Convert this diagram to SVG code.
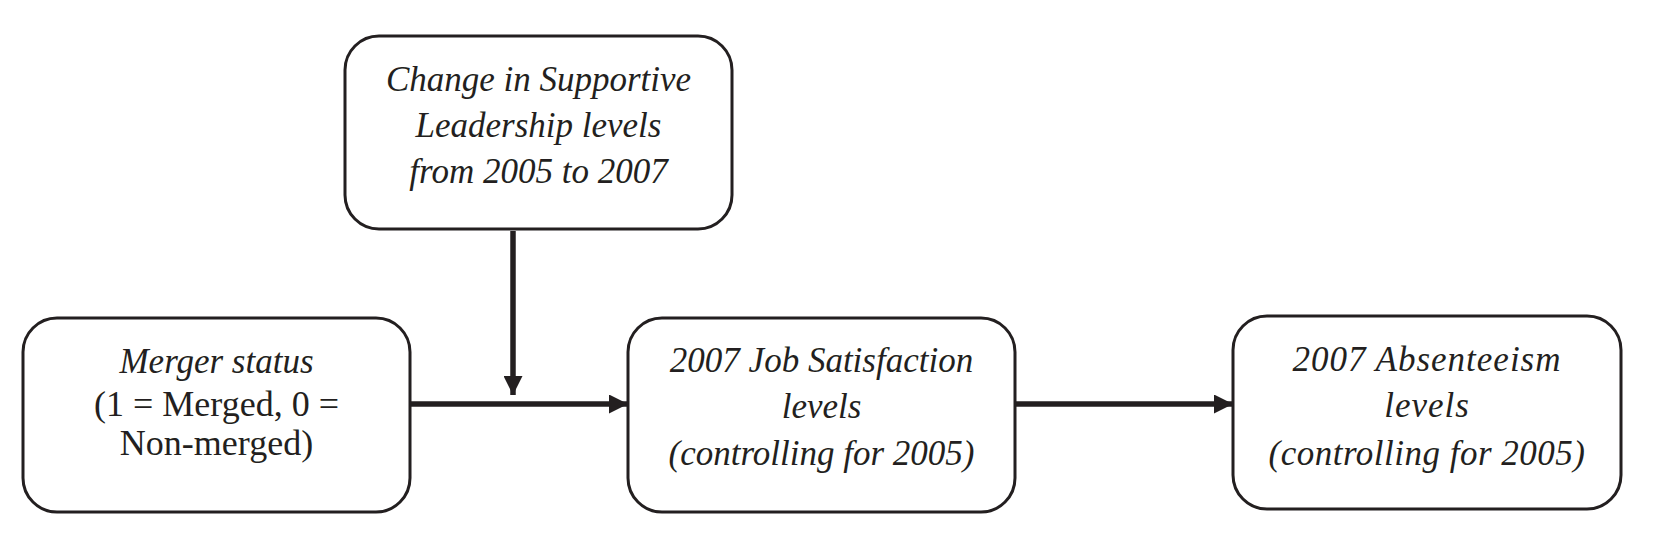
<svg xmlns="http://www.w3.org/2000/svg" width="1658" height="548" viewBox="0 0 1658 548">
<style>
.box{fill:#fff;stroke:#231f20;stroke-width:3}
.t{font-family:"Liberation Serif","Times New Roman",serif;font-size:35px;fill:#231f20;text-anchor:middle}
.i{font-style:italic}
.c{stroke:#231f20;stroke-width:5.5;fill:none}
</style>
<defs>
<marker id="ah" markerUnits="userSpaceOnUse" markerWidth="19" markerHeight="19" viewBox="0 0 19 19" refX="19" refY="9.5" orient="auto">
<path d="M0,0 L19,9.5 L0,19 Z" fill="#231f20"/>
</marker>
</defs>
<rect width="1658" height="548" fill="#fff"/>
<g id="leadership">
<rect class="box" x="345" y="36" width="387" height="193" rx="34"/>
<text class="t i" x="538.5" y="91">Change in Supportive</text>
<text class="t i" x="538.5" y="137">Leadership levels</text>
<text class="t i" x="538.5" y="183">from 2005 to 2007</text>
</g>
<g id="merger">
<rect class="box" x="23" y="318" width="387" height="194" rx="34"/>
<text class="t i" x="216.5" y="373">Merger status</text>
<text class="t" x="216.5" y="416" style="font-size:36px">(1 = Merged, 0 =</text>
<text class="t" x="216.5" y="455" style="font-size:36px">Non-merged)</text>
</g>
<g id="jobsat">
<rect class="box" x="628" y="318" width="387" height="194" rx="34"/>
<text class="t i" x="821.5" y="372">2007 Job Satisfaction</text>
<text class="t i" x="821.5" y="418">levels</text>
<text class="t i" x="821.5" y="465">(controlling for 2005)</text>
</g>
<g id="absent">
<rect class="box" x="1233" y="316" width="388" height="193" rx="34"/>
<text class="t i" x="1427" y="371" style="letter-spacing:1px">2007 Absenteeism</text>
<text class="t i" x="1427" y="417" style="letter-spacing:1px">levels</text>
<text class="t i" x="1427" y="465" style="letter-spacing:0.5px">(controlling for 2005)</text>
</g>
<g id="connectors">
<line class="c" x1="513" y1="231" x2="513" y2="395" marker-end="url(#ah)"/>
<line class="c" x1="410" y1="404" x2="628" y2="404" marker-end="url(#ah)"/>
<line class="c" x1="1015" y1="404" x2="1233" y2="404" marker-end="url(#ah)"/>
</g>
</svg>
